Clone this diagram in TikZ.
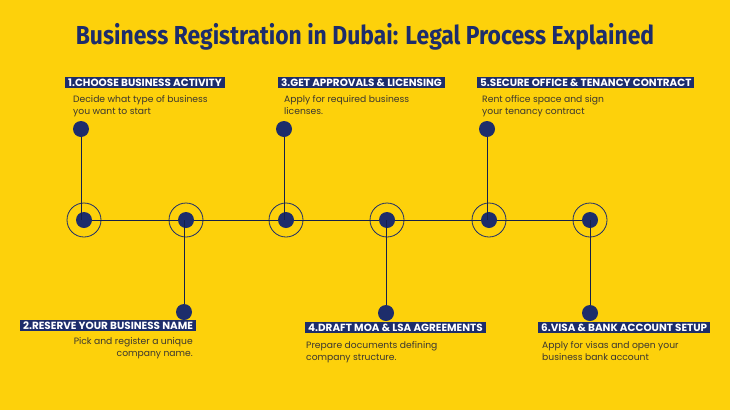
\documentclass[tikz,border=0pt]{standalone}
\usepackage{fontspec}
\setmainfont{Poppins}
\newfontfamily\titlefont{Fira Sans}
\definecolor{bg}{HTML}{FDD10B}
\definecolor{navy}{HTML}{1D2D6B}
\definecolor{txt}{HTML}{3A3630}
\begin{document}
\begin{tikzpicture}[x=1pt,y=-1pt,
  ring/.style={circle,draw=navy,line width=0.8pt,minimum size=34pt,inner sep=0pt},
  dot/.style={circle,fill=navy,minimum size=16pt,inner sep=0pt},
  tag/.style={fill=navy,text=white,font=\bfseries\fontsize{10.4}{12}\selectfont,inner xsep=3pt,inner ysep=1.5pt,anchor=north west},
  desc/.style={text=txt,font=\fontsize{9.2}{12}\selectfont,align=left,anchor=north west,inner sep=0pt},
  ln/.style={draw=navy!70!black,line width=0.8pt}]
\fill[bg] (0,0) rectangle (730,410);
\node (title) at (365,37) {\scalebox{0.88}[1]{\titlefont\bfseries\fontsize{26}{30}\selectfont\color{navy}Business Registration in Dubai: Legal Process Explained}};
\foreach \n/\x in {1/84,2/186,3/286,4/387,5/489,6/590}{
  \node[ring] (r\n) at (\x,220) {};
}
\draw[ln] (r1.center) -- (r6.center);
\foreach \n in {1,...,6}{ \node[dot] at (r\n) {}; }
\node[dot] (t1) at (81,129) {};
\node[dot] (t3) at (284,129) {};
\node[dot] (t5) at (487,129) {};
\node[dot] (b2) at (184,312) {};
\node[dot] (b4) at (386,313) {};
\node[dot] (b6) at (590,313) {};
\draw[ln] (t1) -- (t1|-r1.center);
\draw[ln] (t3) -- (t3|-r3.center);
\draw[ln] (t5) -- (t5|-r5.center);
\draw[ln] (b2) -- (b2|-r2.center);
\draw[ln] (b4) -- (b4|-r4.center);
\draw[ln] (b6) -- (b6|-r6.center);
\node[tag] (l1) at (65,77) {1.CHOOSE BUSINESS ACTIVITY};
\node[desc] (d1) at (73,95) {Decide what type of business\\you want to start};
\node[tag] (l3) at (278,77) {3.GET APPROVALS \& LICENSING};
\node[desc] (d3) at (284,95) {Apply for required business\\licenses.};
\node[tag] (l5) at (477,77) {5.SECURE OFFICE \& TENANCY CONTRACT};
\node[desc] (d5) at (482,95) {Rent office space and sign\\your tenancy contract};
\node[tag] (l2) at (20,320) {2.RESERVE YOUR BUSINESS NAME};
\node[desc,align=right,anchor=north east] (d2) at (193,337) {Pick and register a unique\\company name.};
\node[tag] (l4) at (305,322) {4.DRAFT MOA \& LSA AGREEMENTS};
\node[desc] (d4) at (306,341) {Prepare documents defining\\company structure.};
\node[tag] (l6) at (538,322) {6.VISA \& BANK ACCOUNT SETUP};
\node[desc] (d6) at (542,341) {Apply for visas and open your\\business bank account};
\end{tikzpicture}
\end{document}
